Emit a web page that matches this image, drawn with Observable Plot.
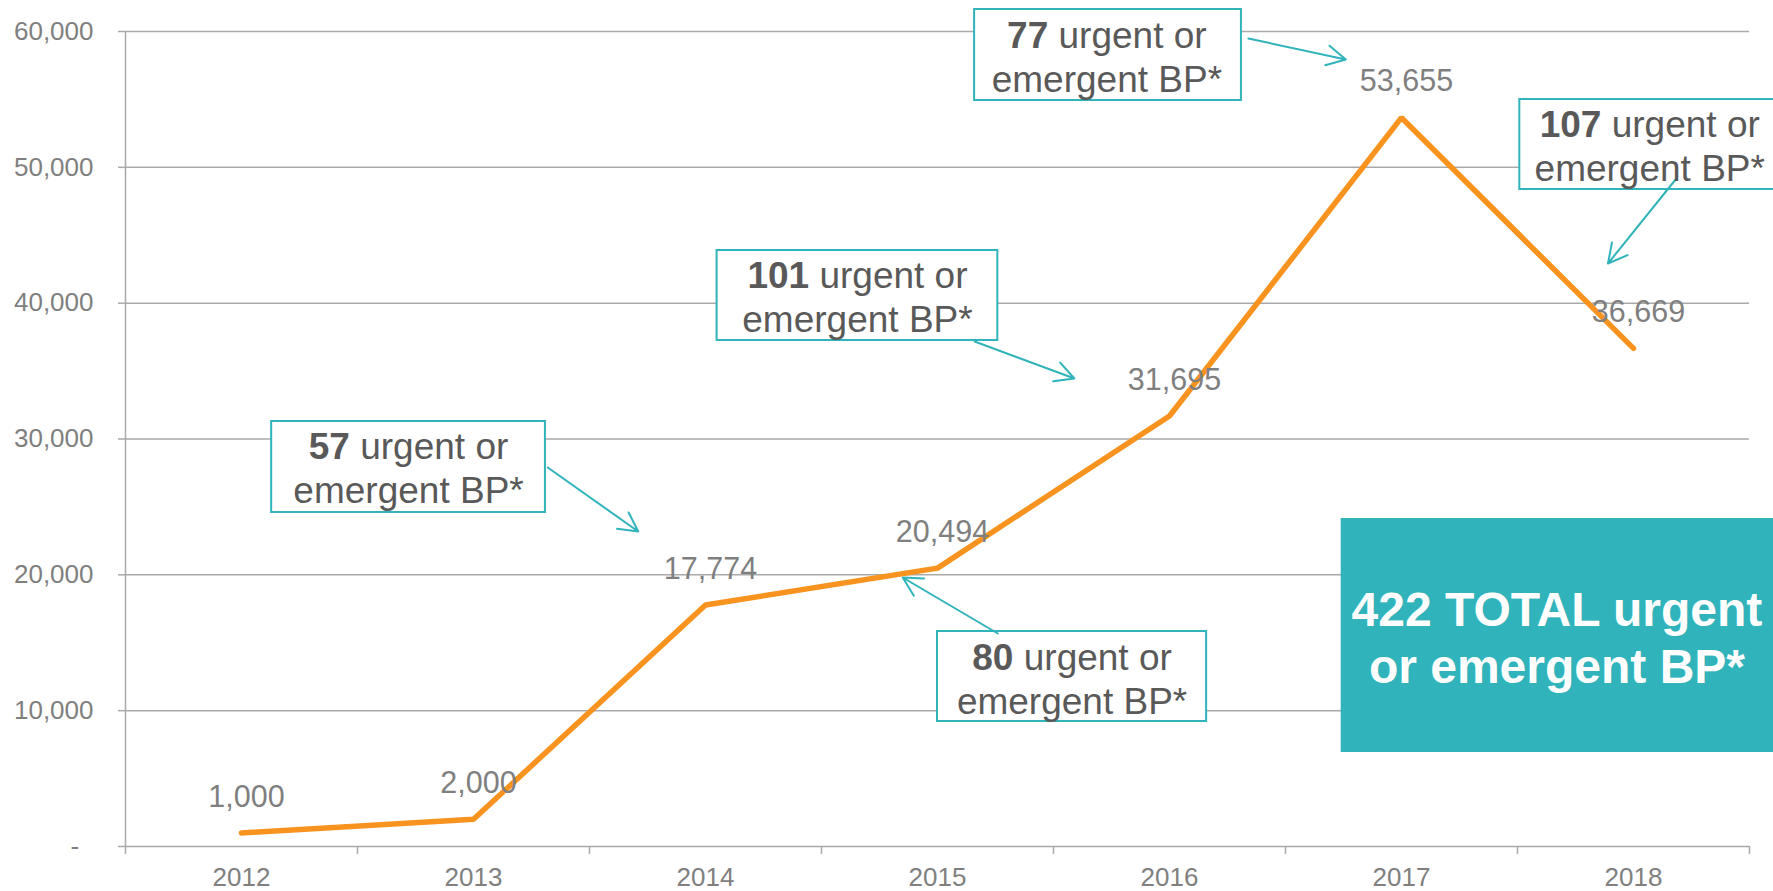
<!DOCTYPE html>
<html><head><meta charset="utf-8">
<script src="https://cdn.jsdelivr.net/npm/d3@7"></script>
<script src="https://cdn.jsdelivr.net/npm/@observablehq/plot@0.6"></script>
<style>
html,body{margin:0;padding:0;background:#fff;overflow:hidden;}
#chart svg{display:block;max-width:none;}
</style></head><body><div id="chart"></div>
<script>
// ---- data ----
const years = [2012, 2013, 2014, 2015, 2016, 2017, 2018];
const counts = [1000, 2000, 17774, 20494, 31695, 53655, 36669];
const yTicks = [0, 10000, 20000, 30000, 40000, 50000, 60000];
const yearBounds = [2011.5, 2012.5, 2013.5, 2014.5, 2015.5, 2016.5, 2017.5, 2018.5];
const calloutCounts = [57, 101, 80, 77, 107];
const calloutLine1 = "urgent or";
const calloutLine2 = "emergent BP*";
const totalLines = ["422 TOTAL urgent", "or emergent BP*"];

// ---- annotation layout (chart units: year, value) ----
const calloutBoxes = [
  {x1: 2012.13, x2: 2013.31, y1: 24589, y2: 31289, tx: 2012.72, ty: 27976},
  {x1: 2014.05, x2: 2015.26, y1: 37252, y2: 43878, tx: 2014.655, ty: 40565},
  {x1: 2015.00, x2: 2016.16, y1: 9203, y2: 15828, tx: 2015.58, ty: 12442},
  {x1: 2015.16, x2: 2016.31, y1: 54921, y2: 61620, tx: 2015.73, ty: 58234},
  {x1: 2017.51, x2: 2018.75, y1: 48368, y2: 54994, tx: 2018.07, ty: 51681}
];
const calloutArrows = [
  {x1: 2013.32, y1: 27902, x2: 2013.71, y2: 23190},
  {x1: 2015.16, y1: 37178, x2: 2015.59, y2: 34454},
  {x1: 2015.26, y1: 15681, x2: 2014.85, y2: 19804},
  {x1: 2016.34, y1: 59485, x2: 2016.76, y2: 57939},
  {x1: 2018.185, y1: 49178, x2: 2017.89, y2: 42920}
];
const totalBox = {x1: 2016.74, x2: 2018.75, y1: 6920, y2: 24147, tx: 2017.67, ty: 15460};

const teal = "#30b3ba";
const orange = "#f7931e";
const labelGray = "#7f7f7f";
const gridGray = "#a9a9a9";
const textDark = "#595959";

const table = years.map((year, i) => ({year, count: counts[i]}));
const callouts = calloutBoxes.map((b, i) => ({...b, text: `${calloutCounts[i]} ${calloutLine1}\n${calloutLine2}`}));
const total = [{...totalBox, text: totalLines.join("\n")}];

const chart = Plot.plot({
  width: 1773, height: 891,
  marginLeft: 125, marginRight: 24, marginTop: 31, marginBottom: 45,
  x: {domain: [2011.5, 2018.5]},
  y: {domain: [0, 60000]},
  style: {fontFamily: "'Liberation Sans', Arial, sans-serif", fontSize: "26px", color: labelGray, background: "#fff", overflow: "visible"},
  marks: [
    Plot.gridY({ticks: yTicks.filter(d => d > 0), stroke: gridGray, strokeOpacity: 1, strokeWidth: 1.5}),
    Plot.ruleY([0], {stroke: gridGray, strokeWidth: 1.5}),
    Plot.ruleX([2011.5], {y1: 0, y2: 60000, stroke: gridGray, strokeWidth: 1.5}),
    Plot.axisY({ticks: yTicks, tickSize: 7, tickPadding: 25, stroke: gridGray, strokeWidth: 1.5, fill: labelGray, fontSize: 26,
      tickFormat: d => d === 0 ? "-\u00a0\u00a0" : d3.format(",")(d)}),
    Plot.axisX({ticks: yearBounds, tickSize: 8, stroke: gridGray, strokeWidth: 1.5, tickFormat: () => ""}),
    Plot.axisX({ticks: years, tickSize: 0, tickPadding: 21, fill: labelGray, fontSize: 26, tickFormat: d => String(d)}),
    Plot.rect(callouts, {x1: "x1", x2: "x2", y1: "y1", y2: "y2", fill: "white", stroke: teal, strokeWidth: 2}),
    Plot.rect(total, {x1: "x1", x2: "x2", y1: "y1", y2: "y2", fill: teal}),
    Plot.arrow(calloutArrows, {x1: "x1", y1: "y1", x2: "x2", y2: "y2", stroke: teal, strokeWidth: 2, headLength: 16, headAngle: 56}),
    Plot.line(table, {x: "year", y: "count", stroke: orange, strokeWidth: 5.5, strokeLinejoin: "miter", strokeLinecap: "round"}),
    Plot.text(table, {x: "year", y: "count", text: d => d3.format(",")(d.count), dx: 5, dy: -36, fontSize: 30.5, fill: labelGray}),
    Plot.text(callouts, {x: "tx", y: "ty", text: "text", fontSize: 37, lineHeight: 1.19, fill: textDark}),
    Plot.text(total, {x: "tx", y: "ty", text: "text", fontSize: 48, lineHeight: 1.18, fontWeight: "bold", fill: "white"})
  ]
});

// bold the leading count in each callout's first line
const svgns = "http://www.w3.org/2000/svg";
chart.querySelectorAll("tspan, text").forEach(el => {
  if (el.children.length) return;
  const m = /^(\d+) (urgent or)$/.exec(el.textContent);
  if (!m) return;
  el.textContent = "";
  const b = document.createElementNS(svgns, "tspan");
  b.setAttribute("font-weight", "bold");
  b.textContent = m[1];
  const r = document.createElementNS(svgns, "tspan");
  r.textContent = " " + m[2];
  el.append(b, r);
});

document.getElementById("chart").append(chart);
</script>
</body></html>
